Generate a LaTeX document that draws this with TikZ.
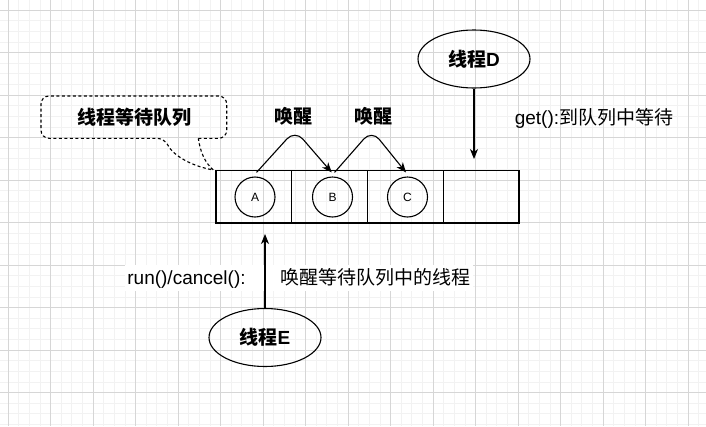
\documentclass[tikz,border=0pt]{standalone}
\usepackage{fontspec}
\setmainfont{Liberation Sans}
\newfontfamily\cjk{Noto Sans CJK SC}
\usetikzlibrary{shapes.geometric,arrows.meta}

\begin{document}
\begin{tikzpicture}[x=1pt,y=-1pt,
  line width=1.1pt,
  lbl/.style={font=\fontsize{19}{22}\selectfont, inner sep=0pt},
  blbl/.style={font=\fontsize{19}{22}\selectfont\bfseries, inner sep=0pt},
  thread/.style={draw, ellipse, minimum width=112pt, minimum height=58pt, inner sep=0pt, font=\fontsize{19}{22}\selectfont\bfseries},
  cell/.style={draw, minimum width=75.75pt, minimum height=52.3pt, inner sep=0pt},
  item/.style={draw, circle, minimum size=40pt, inner sep=0pt, font=\fontsize{12}{14}\selectfont},
  arr/.style={-{Stealth[length=10pt,width=8pt,inset=3pt]}},
  minorgrid/.style={line width=0.6pt, draw=black!5},
  majorgrid/.style={line width=0.8pt, draw=black!16},
  callout/.style={dash pattern=on 3pt off 2.5pt, line width=1.1pt},
]
\useasboundingbox (0,0) rectangle (706,426);
\fill[white] (0,0) rectangle (706,426);
% grid
\foreach \i in {-1,...,67} \draw[minorgrid] ({8+\i*10.625},0) -- ({8+\i*10.625},426);
\foreach \i in {-1,...,40} \draw[minorgrid] (0,{10+\i*10.625}) -- (706,{10+\i*10.625});
\foreach \i in {0,...,16} \draw[majorgrid] ({8+\i*42.5},0) -- ({8+\i*42.5},426);
\foreach \i in {0,...,9} \draw[majorgrid] (0,{10+\i*42.5}) -- (706,{10+\i*42.5});

% callout
\draw[callout, rounded corners=8pt] (198.3,138.3) -- (226.7,138.3) -- (226.7,96) -- (41,96) -- (41,138.3) -- (165,138.3)
  [sharp corners] .. controls (171,152) and (186,165) .. (213.3,170)
  .. controls (204,162) and (200,150) .. (198.3,138.3);
\node[blbl] (qlabel) at (134,117) {\cjk 线程等待队列};

% queue
\node[cell] (c1) at (253.9,196.85) {};
\node[cell] (c2) at (329.6,196.85) {};
\node[cell] (c3) at (405.4,196.85) {};
\node[cell] (c4) at (481.1,196.85) {};
\node[item] (A) at (255,197) {A};
\node[item] (B) at (332.5,197) {B};
\node[item] (C) at (407.5,197) {C};

% wake arrows
\draw[arr, rounded corners=12pt] ([yshift=4pt,xshift=1.5pt]A.north) -- (295,130) -- ([yshift=4pt,xshift=-0.8pt]B.north);
\draw[arr, rounded corners=12pt] ([yshift=4pt,xshift=2pt]B.north) -- (371.7,130) -- ([yshift=4pt,xshift=-1.5pt]C.north);
\node[blbl] (w1) at (293.3,116.7) {\cjk 唤醒};
\node[blbl] (w2) at (373.3,116.7) {\cjk 唤醒};

% thread D
\node[thread] (D) at (474,59) {{\cjk 线程}D};
\coordinate (dtip) at (474,159);
\draw[arr] (D.south) -- (dtip);
\node[lbl] (getl) at (594,118) {get():{\cjk 到队列中等待}};

% thread E
\node[thread] (E) at (265,337.5) {{\cjk 线程}E};
\coordinate (etip) at (265,234);
\node[lbl, fill=white, inner xsep=2pt, inner ysep=3pt] (runl) at (299,278) {run()/cancel():\hspace{35pt}{\cjk 唤醒等待队列中的线程}};
\draw[arr] (E.north) -- (etip);
\end{tikzpicture}
\end{document}
